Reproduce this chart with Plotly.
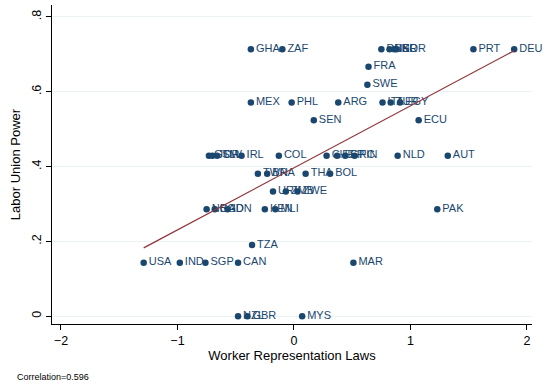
import numpy as np
import plotly.graph_objects as go

# Country codes with worker-representation-law index (x) and labor-union-power index (y)
countries = [
    "GHA", "ZAF", "DNK", "BEL", "ISR", "NOR", "PRT", "DEU",
    "FRA", "SWE",
    "MEX", "PHL", "ARG", "ITA", "TUR", "EGY",
    "SEN", "ECU",
    "GTM", "JOR", "SLV", "IRL", "COL", "CHE", "ESP", "GRC", "FIN", "NLD", "AUT",
    "TWN", "BRA", "THA", "BOL",
    "URY", "ZMB", "ZWE",
    "NGA", "BGD", "IDN", "KEN", "MLI", "PAK",
    "TZA",
    "USA", "IND", "SGP", "CAN", "MAR",
    "NZL", "GBR", "MYS",
]
worker_laws = [
    -0.37, -0.10, 0.75, 0.82, 0.86, 0.88, 1.54, 1.89,
    0.64, 0.63,
    -0.37, -0.02, 0.38, 0.76, 0.83, 0.91,
    0.17, 1.07,
    -0.73, -0.70, -0.66, -0.45, -0.13, 0.28, 0.37, 0.44, 0.52, 0.89, 1.32,
    -0.31, -0.23, 0.10, 0.31,
    -0.18, -0.07, 0.03,
    -0.75, -0.68, -0.57, -0.25, -0.16, 1.23,
    -0.36,
    -1.29, -0.98, -0.76, -0.48, 0.51,
    -0.48, -0.40, 0.07,
]
union_power = [
    0.714, 0.714, 0.714, 0.714, 0.714, 0.714, 0.714, 0.714,
    0.667, 0.619,
    0.571, 0.571, 0.571, 0.571, 0.571, 0.571,
    0.524, 0.524,
    0.429, 0.429, 0.429, 0.429, 0.429, 0.429, 0.429, 0.429, 0.429, 0.429, 0.429,
    0.381, 0.381, 0.381, 0.381,
    0.333, 0.333, 0.333,
    0.286, 0.286, 0.286, 0.286, 0.286, 0.286,
    0.190,
    0.143, 0.143, 0.143, 0.143, 0.143,
    0.0, 0.0, 0.0,
]
correlation_text = "Correlation=0.596"

x_ticks = [-2, -1, 0, 1, 2]
y_ticks = [0, 0.2, 0.4, 0.6, 0.8]
y_tick_labels = ["0", ".2", ".4", ".6", ".8"]

navy = "#1a476f"
maroon = "#90353b"
grid = "#eaf2f3"
font_family = "Liberation Sans, Arial, Helvetica, sans-serif"

x = np.array(worker_laws)
y = np.array(union_power)
slope, intercept = np.polyfit(x, y, 1)
fit_x = np.array([x.min(), x.max()])
fit_y = intercept + slope * fit_x

fig = go.Figure()
fig.add_trace(go.Scatter(
    x=worker_laws, y=union_power, text=countries,
    mode="markers+text", textposition="middle right",
    marker=dict(color=navy, size=6.5, line=dict(width=0)),
    textfont=dict(color=navy, size=11, family=font_family),
    cliponaxis=False, showlegend=False, hoverinfo="text",
))
fig.add_trace(go.Scatter(
    x=fit_x, y=fit_y, mode="lines",
    line=dict(color=maroon, width=1.2),
    showlegend=False, hoverinfo="skip",
))

fig.update_layout(
    width=550, height=384,
    margin=dict(l=52, r=18, t=5, b=60),
    paper_bgcolor="white", plot_bgcolor="white",
    font=dict(family=font_family, color="black"),
    annotations=[dict(
        text=correlation_text, xref="paper", yref="paper",
        x=-0.077, y=-0.143, xanchor="left", yanchor="top",
        showarrow=False, font=dict(size=9, color="black", family=font_family),
    )],
)
fig.update_xaxes(
    range=[-2.077, 2.043], tickvals=x_ticks,
    showgrid=False, zeroline=False,
    showline=True, linecolor="black", linewidth=1,
    ticks="outside", ticklen=5, tickcolor="black",
    tickfont=dict(size=12.5, color="black"),
    title=dict(text="Worker Representation Laws", font=dict(size=13, color="black"), standoff=3),
)
fig.update_yaxes(
    range=[-0.021, 0.832], tickvals=y_ticks, ticktext=y_tick_labels,
    tickangle=-90,
    showgrid=True, gridcolor=grid, gridwidth=1, zeroline=False,
    showline=True, linecolor="black", linewidth=1,
    ticks="outside", ticklen=5, tickcolor="black",
    tickfont=dict(size=12.5, color="black"),
    title=dict(text="Labor Union Power", font=dict(size=13, color="black"), standoff=6),
)

fig.write_html("out.html")
